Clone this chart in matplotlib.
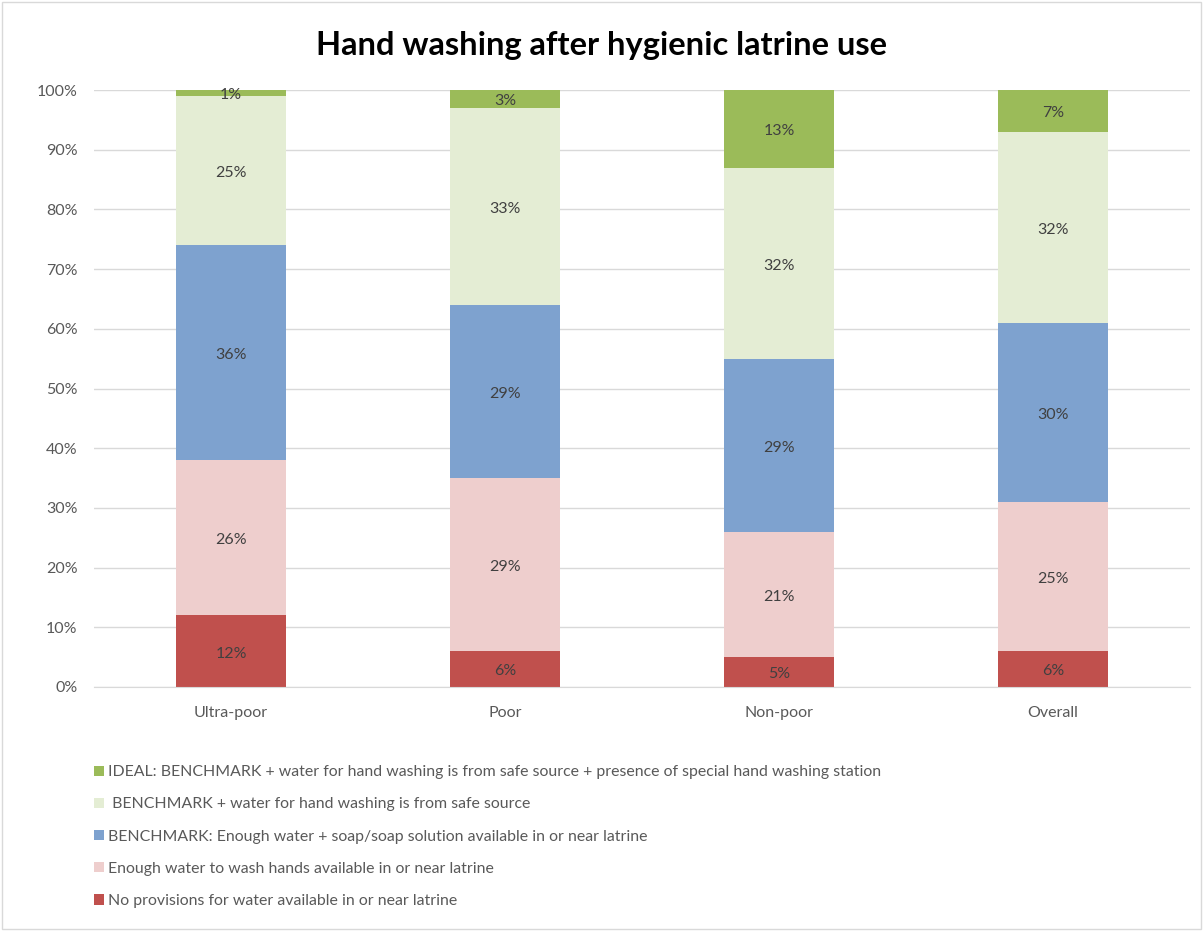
import matplotlib
matplotlib.use("Agg")
import matplotlib.pyplot as plt
from matplotlib.patches import Rectangle
from matplotlib.ticker import FuncFormatter

categories = ["Ultra-poor", "Poor", "Non-poor", "Overall"]
no_water = [12, 6, 5, 6]
enough_water = [26, 29, 21, 25]
benchmark = [36, 29, 29, 30]
safe_source = [25, 33, 32, 32]
ideal = [1, 3, 13, 7]

series = [
    (no_water, "#C0504D", "No provisions for water available in or near latrine"),
    (enough_water, "#EECECD", "Enough water to wash hands available in or near latrine"),
    (benchmark, "#7EA2CF", "BENCHMARK: Enough water + soap/soap solution available in or near latrine"),
    (safe_source, "#E4EDD4", " BENCHMARK + water for hand washing is from safe source"),
    (ideal, "#9BBB59", "IDEAL: BENCHMARK + water for hand washing is from safe source + presence of special hand washing station"),
]

plt.rcParams["font.family"] = ["Lato", "DejaVu Sans"]
text_color = "#595959"

fig = plt.figure(figsize=(12.03, 9.31), dpi=100)
ax = fig.add_axes([94 / 1203, 1 - 687 / 931, 1096 / 1203, 597 / 931])

x = list(range(len(categories)))
bottom = [0] * len(categories)
handles = []
for vals, color, label in series:
    bars = ax.bar(x, vals, width=0.4, bottom=bottom, color=color, label=label, zorder=2)
    handles.append(bars)
    for xi, v, b in zip(x, vals, bottom):
        ax.text(xi, b + v / 2 - 0.4, f"{v}%", ha="center", va="center",
                fontsize=11.5, color="#404040", zorder=3)
    bottom = [b + v for b, v in zip(bottom, vals)]

ax.set_xlim(-0.5, len(categories) - 0.5)
ax.set_ylim(0, 100)
ax.set_yticks(range(0, 101, 10))
ax.yaxis.set_major_formatter(FuncFormatter(lambda v, p: f"{int(v)}%"))
ax.grid(axis="y", color="#D9D9D9", linewidth=1, zorder=0)
ax.set_axisbelow(True)
for side in ["top", "right", "left"]:
    ax.spines[side].set_visible(False)
ax.spines["bottom"].set_color("#D9D9D9")
ax.tick_params(axis="both", length=0, colors=text_color, labelsize=11.5)
ax.tick_params(axis="y", pad=12)
ax.tick_params(axis="x", pad=14)
ax.set_xticks(x)
ax.set_xticklabels(categories)

fig.text(0.5, 1 - 45 / 931, "Hand washing after hygienic latrine use",
         ha="center", va="center", fontsize=23.5, fontweight="bold", color="black")

leg = fig.legend(handles=handles[::-1], loc="upper left",
                 bbox_to_anchor=(80 / 1203, 1 - 751 / 931),
                 frameon=False, fontsize=11.4, labelcolor=text_color,
                 handlelength=0.6, handleheight=0.6, handletextpad=0.25,
                 labelspacing=1.15)

fig.patches.append(Rectangle((0.002, 0.002), 0.996, 0.996, transform=fig.transFigure,
                             fill=False, edgecolor="#D9D9D9", linewidth=1))

fig.savefig("out.png", dpi=100, facecolor="white")
